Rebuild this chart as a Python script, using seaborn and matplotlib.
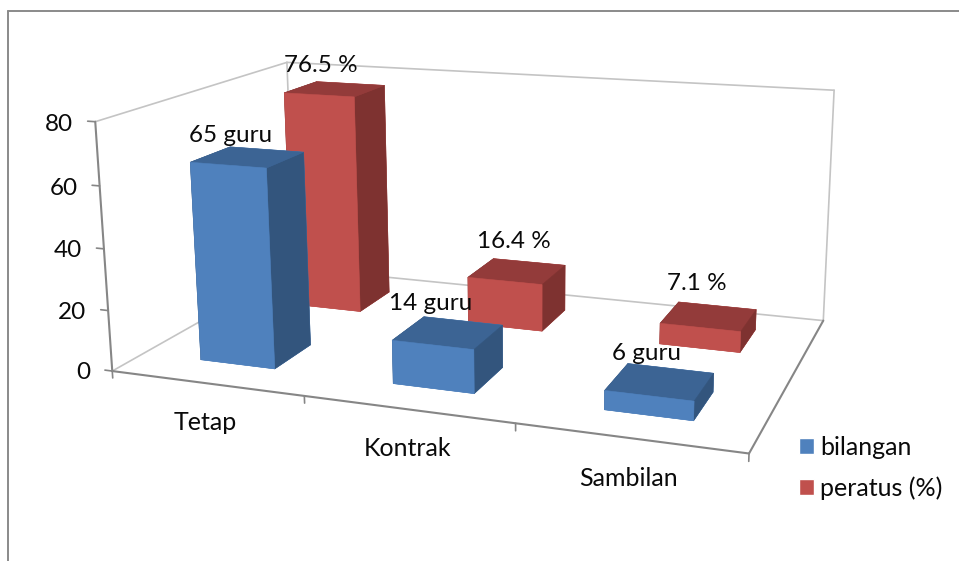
import numpy as np
import pandas as pd
import seaborn as sns
import matplotlib
matplotlib.use("Agg")
import matplotlib.pyplot as plt
from matplotlib.patches import Patch
from matplotlib.lines import Line2D
from mpl_toolkits.mplot3d import proj3d

categories = ["Tetap", "Kontrak", "Sambilan"]
bilangan = [65, 14, 6]
peratus = [76.5, 16.4, 7.1]
bilangan_labels = ["65 guru", "14 guru", "6 guru"]
peratus_labels = ["76.5 %", "16.4 %", "7.1 %"]
y_ticks = [0, 20, 40, 60, 80]
series_names = ["bilangan", "peratus (%)"]

W, H = 959, 561
ink = "#0a0a0a"

sns.set_theme(style="white")
plt.rcParams["font.family"] = ["Lato", "DejaVu Sans"]

df = pd.DataFrame({"kategori": categories, "bilangan": bilangan, "peratus": peratus})

fig = plt.figure(figsize=(W / 100, H / 100), dpi=100)
# camera below was fitted to the frame corners of the reference
S = 1000
cx, cy = 479.5 - 11.24, 280.5 - 39.69
ax = fig.add_axes([(cx - S / 2) / W, (H - cy - S / 2) / H, S / W, S / H],
                  projection="3d", computed_zorder=False)
ax.set_xlim(0, 3)
ax.set_ylim(0, 1)
ax.set_zlim(0, 80)
ax.set_proj_type("persp", focal_length=0.299)
ax.view_init(elev=14.39, azim=-69.27, roll=0.456)
ax.set_box_aspect((1, 0.6224, 0.3947), zoom=0.7552)
ax.set_axis_off()

# faces: bottom, top, front, back, left, right
blue = ["#4f81bd", "#3c6494", "#4f81bd", "#4f81bd", "#33557d", "#33557d"]
red = ["#c0504d", "#933b3a", "#c0504d", "#c0504d", "#7e3230", "#7e3230"]

xpos = np.arange(len(categories)) + 0.31
zeros = np.zeros(len(categories))
ax.bar3d(xpos, zeros + 0.66, zeros, 0.395, 0.2, df["peratus"].values,
         color=red * 3, edgecolor=red * 3, linewidth=0.4, shade=False, zorder=2)
ax.bar3d(xpos, zeros + 0.15, zeros, 0.395, 0.2, df["bilangan"].values,
         color=blue * 3, edgecolor=blue * 3, linewidth=0.4, shade=False, zorder=3)

# back frame
back = "#c4c4c4"
for xs, ys, zs in [([0, 0], [0, 1], [0, 0]), ([0, 3], [1, 1], [0, 0]),
                   ([0, 0], [0, 1], [80, 80]), ([0, 3], [1, 1], [80, 80]),
                   ([0, 0], [1, 1], [0, 80]), ([3, 3], [1, 1], [0, 80])]:
    ax.plot(xs, ys, zs, color=back, lw=1.2, zorder=1)

# front axes
front = "#868686"
ax.plot([0, 3], [0, 0], [0, 0], color=front, lw=1.5, zorder=4)
ax.plot([3, 3], [0, 1], [0, 0], color=front, lw=1.5, zorder=1)
ax.plot([0, 0], [0, 0], [0, 80], color=front, lw=1.5, zorder=4)
M = ax.get_proj()
for t in y_ticks:
    ax.plot([-0.04, 0], [0, 0], [t, t], color=front, lw=1.2, zorder=4)
    # Text3D reports a stale extent, so place a 2D annotation at the projected spot
    px, py, _ = proj3d.proj_transform(-0.118, 0, t, M)
    ax.annotate(str(t), xy=(px, py), xycoords="data", xytext=(0, -3), textcoords="offset points",
                fontsize=17.5, ha="right", va="center", color=ink)
for i in range(len(categories) + 1):
    ax.plot([i, i], [0, 0], [0, -2.3], color=front, lw=1.2, zorder=4)

# data labels and categories sit at fixed spots like in the office chart
bil_pos = [(231, 136), (431, 303), (646, 354)]
per_pos = [(321, 66), (514, 242), (697, 283)]
cat_pos = [(205, 422), (408, 449), (628, 478)]
for i in range(len(categories)):
    fig.text(bil_pos[i][0] / W, 1 - bil_pos[i][1] / H, bilangan_labels[i], fontsize=17.5, ha="center", va="center", color=ink)
    fig.text(per_pos[i][0] / W, 1 - per_pos[i][1] / H, peratus_labels[i], fontsize=17.5, ha="center", va="center", color=ink)
    fig.text(cat_pos[i][0] / W, 1 - cat_pos[i][1] / H, categories[i], fontsize=18, ha="center", va="center", color=ink)

handles = [Patch(facecolor="#4f81bd", label=series_names[0]), Patch(facecolor="#c0504d", label=series_names[1])]
fig.legend(handles=handles, loc="upper left", bbox_to_anchor=(799 / W, 1 - 436 / H), frameon=False,
           fontsize=18, handlelength=0.6, handleheight=0.6, handletextpad=0.24,
           labelspacing=0.69, borderpad=0, borderaxespad=0, labelcolor=ink)

fig.add_artist(Line2D([7.5 / W, 7.5 / W], [0, 1 - 10.5 / H], color="#8a8a8a", lw=1.4))
fig.add_artist(Line2D([7.5 / W, 1], [1 - 10.5 / H, 1 - 10.5 / H], color="#8a8a8a", lw=1.4))

fig.savefig("out.png", dpi=100)
